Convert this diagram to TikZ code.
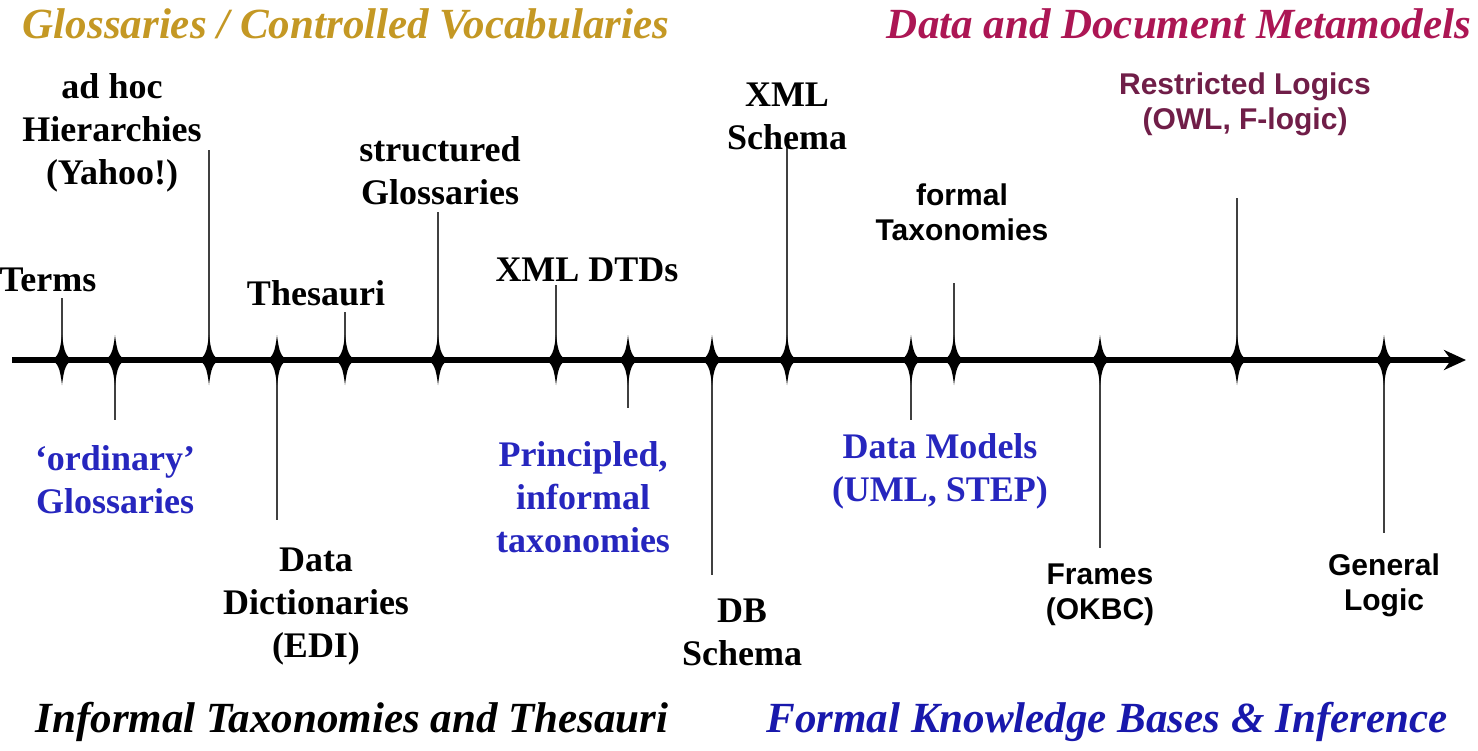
\documentclass[tikz,border=0pt]{standalone}
\usepackage{fontspec}
\setmainfont{Liberation Serif}
\setsansfont{Liberation Sans}
\usetikzlibrary{arrows.meta}
\definecolor{headgold}{RGB}{196,152,36}
\definecolor{headmag}{RGB}{172,22,84}
\definecolor{logicpurple}{RGB}{112,30,72}
\definecolor{lblblue}{RGB}{38,38,190}
\definecolor{headblue}{RGB}{24,24,172}
\tikzset{
    lbl/.style = {font=\bfseries\fontsize{18}{21.5}\selectfont, align=center, inner sep=0pt},
    slbl/.style = {font=\sffamily\bfseries\fontsize{15}{17.5}\selectfont, align=center, inner sep=0pt},
    head/.style = {font=\bfseries\itshape\fontsize{21.5}{24}\selectfont, inner sep=0pt},
    stem/.style = {line width=1pt, black!75},
    axis/.style = {line width=3pt, -{Stealth[length=11pt, width=10pt]}},
    spark/.pic = {\fill (0,-25) .. controls (2,-8) and (4,-3) .. (11,0) .. controls (4,3) and (2,8) .. (0,25)
        .. controls (-2,8) and (-4,3) .. (-11,0) .. controls (-4,-3) and (-2,-8) .. cycle;}
}
\begin{document}
\begin{tikzpicture}[x=0.5pt, y=-0.5pt]
        \useasboundingbox (0,0) rectangle (1478,750);
        % headings
        \node [head, text=headgold] (hTL) at (346,24) {Glossaries / Controlled Vocabularies};
        \node [head, text=headmag] (hTR) at (1179,24) {Data and Document Metamodels};
        \node [head] (hBL) at (352,722) {Informal Taxonomies and Thesauri};
        \node [head, text=headblue] (hBR) at (1107,722) {Formal Knowledge Bases \& Inference};
        % points on the axis
        \coordinate (start) at (12,360);
        \coordinate (tip) at (1466,360);
        \coordinate (tTerms) at (62,360);
        \coordinate (tOrdinary) at (115,360);
        \coordinate (tAdhoc) at (209,360);
        \coordinate (tDict) at (277,360);
        \coordinate (tThes) at (345,360);
        \coordinate (tStruct) at (438,360);
        \coordinate (tDtd) at (556,360);
        \coordinate (tPrinc) at (628,360);
        \coordinate (tDb) at (712,360);
        \coordinate (tXsd) at (787,360);
        \coordinate (tModels) at (911,360);
        \coordinate (tFormal) at (954,360);
        \coordinate (tFrames) at (1100,360);
        \coordinate (tRestr) at (1237,360);
        \coordinate (tLogic) at (1384,360);
        % ends of the stems
        \coordinate (eTerms) at (62,298);
        \coordinate (eOrdinary) at (115,420);
        \coordinate (eAdhoc) at (209,150);
        \coordinate (eDict) at (277,520);
        \coordinate (eThes) at (345,312);
        \coordinate (eStruct) at (438,212);
        \coordinate (eDtd) at (556,285);
        \coordinate (ePrinc) at (628,408);
        \coordinate (eDb) at (712,575);
        \coordinate (eXsd) at (787,145);
        \coordinate (eModels) at (911,420);
        \coordinate (eFormal) at (954,283);
        \coordinate (eFrames) at (1100,548);
        \coordinate (eRestr) at (1237,198);
        \coordinate (eLogic) at (1384,533);
        \draw [stem] (tTerms) -- (eTerms);
        \draw [stem] (tOrdinary) -- (eOrdinary);
        \draw [stem] (tAdhoc) -- (eAdhoc);
        \draw [stem] (tDict) -- (eDict);
        \draw [stem] (tThes) -- (eThes);
        \draw [stem] (tStruct) -- (eStruct);
        \draw [stem] (tDtd) -- (eDtd);
        \draw [stem] (tPrinc) -- (ePrinc);
        \draw [stem] (tDb) -- (eDb);
        \draw [stem] (tXsd) -- (eXsd);
        \draw [stem] (tModels) -- (eModels);
        \draw [stem] (tFormal) -- (eFormal);
        \draw [stem] (tFrames) -- (eFrames);
        \draw [stem] (tRestr) -- (eRestr);
        \draw [stem] (tLogic) -- (eLogic);
        \draw [axis] (start) -- (tip);
        \foreach \p in {tTerms, tOrdinary, tAdhoc, tDict, tThes, tStruct, tDtd, tPrinc, tDb, tXsd, tModels, tFormal, tFrames, tRestr, tLogic}
            \pic at (\p) {spark};
        % labels
        \node [lbl] (terms) at (48,280) {Terms};
        \node [lbl, text=lblblue] (ordinary) at (115,480) {`ordinary'\\Glossaries};
        \node [lbl] (adhoc) at (112,133) {ad hoc\\Hierarchies\\(Yahoo!)};
        \node [lbl] (dict) at (316,607) {Data\\Dictionaries\\(EDI)};
        \node [lbl] (thes) at (316,293) {Thesauri};
        \node [lbl] (struct) at (440,171) {structured\\Glossaries};
        \node [lbl] (dtd) at (587,270) {XML DTDs};
        \node [lbl, text=lblblue] (princ) at (583,497) {Principled,\\informal\\taxonomies};
        \node [lbl] (db) at (742,632) {DB\\Schema};
        \node [lbl] (xsd) at (787,116) {XML\\Schema};
        \node [lbl, text=lblblue] (models) at (940,471) {Data Models\\(UML, STEP)};
        \node [slbl] (formal) at (962,212) {formal\\Taxonomies};
        \node [slbl] (frames) at (1100,595) {Frames\\(OKBC)};
        \node [slbl, text=logicpurple] (restr) at (1245,104) {Restricted Logics\\(OWL, F-logic)};
        \node [slbl] (logic) at (1384,585) {General\\Logic};
\end{tikzpicture}
\end{document}
